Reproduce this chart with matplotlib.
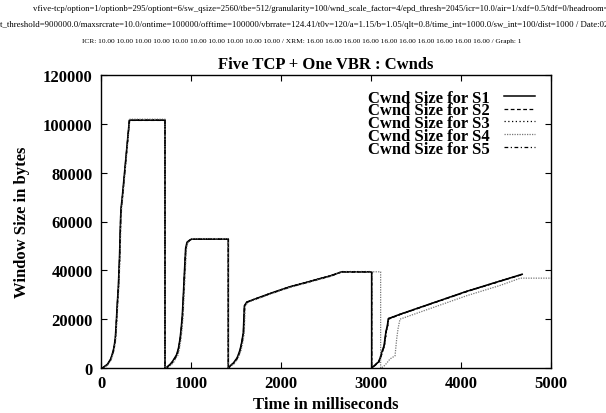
#!/usr/bin/python3

import matplotlib
matplotlib.use('Agg')
import matplotlib.pyplot as plt

# Cwnd traces (time in ms, window in bytes)
t_s1 = [0, 15, 44, 70, 89, 105, 119, 135, 144, 158, 167, 180, 192, 205, 218, 224, 236, 315, 711,
        711, 730, 767, 790, 803, 825, 840, 860, 878, 890, 903, 915, 925, 940, 955, 989, 1010, 1415,
        1415, 1452, 1470, 1489, 1510, 1526, 1545, 1563, 1581, 1593, 1619, 1750, 1915, 2100, 2285, 2420, 2544, 2674, 3007,
        3007, 3044, 3060, 3081, 3100, 3119, 3144, 3155, 3167, 3180, 3192, 3322, 3692, 4063, 4433, 4680]
w_s1 = [0, 0, 800, 1500, 2600, 3500, 5000, 7000, 8500, 12000, 17000, 26000, 33000, 45000, 62000, 66000, 70000, 101500, 101500,
        0, 300, 1500, 2500, 3200, 4500, 5500, 8000, 12000, 16000, 21500, 30000, 38000, 49000, 51500, 52500, 52800, 52800,
        0, 1500, 2000, 3000, 4000, 5500, 7500, 10500, 14500, 25500, 27000, 28800, 31000, 33300, 35100, 36500, 37700, 39400, 39400,
        0, 1200, 1800, 2400, 4000, 6400, 9100, 12000, 15200, 17000, 20200, 22000, 26700, 31400, 35600, 38400]

t_s2 = [0, 18, 48, 72, 92, 108, 121, 138, 146, 160, 169, 182, 194, 207, 219, 226, 238, 317, 711,
        711, 735, 770, 795, 808, 828, 845, 863, 880, 893, 906, 917, 928, 943, 958, 992, 1012, 1415,
        1415, 1455, 1474, 1492, 1513, 1530, 1548, 1566, 1584, 1596, 1622, 1752, 1918, 2102, 2288, 2422, 2546, 2676, 3007,
        3007, 3048, 3064, 3085, 3104, 3123, 3148, 3158, 3170, 3183, 3195, 3325, 3695, 4066, 4436, 4682]
w_s2 = [0, 0, 700, 1400, 2500, 3400, 4800, 6800, 8300, 11800, 16800, 25800, 32800, 44800, 61800, 65800, 69800, 101400, 101400,
        0, 200, 1400, 2300, 3000, 4300, 5300, 7800, 11800, 15800, 21300, 29800, 37800, 48800, 51300, 52400, 52700, 52700,
        0, 1400, 1900, 2900, 3900, 5400, 7300, 10300, 14300, 25300, 26900, 28700, 30900, 33200, 35000, 36400, 37600, 39300, 39300,
        0, 1100, 1700, 2300, 3800, 6200, 8900, 11800, 15000, 16800, 20000, 21900, 26600, 31300, 35500, 38300]

t_s3 = [0, 20, 50, 74, 94, 110, 123, 140, 148, 162, 171, 184, 196, 209, 221, 228, 240, 319, 711,
        711, 740, 775, 800, 812, 832, 850, 866, 884, 896, 909, 920, 931, 946, 961, 995, 1015, 1415,
        1415, 1458, 1478, 1496, 1517, 1534, 1552, 1570, 1588, 1599, 1625, 1755, 1920, 2105, 2290, 2425, 2548, 2678, 3007,
        3007, 3052, 3068, 3090, 3108, 3127, 3152, 3162, 3174, 3186, 3198, 3328, 3698, 4069, 4439, 4684]
w_s3 = [0, 0, 900, 1600, 2700, 3600, 5200, 7200, 8700, 12200, 17200, 26200, 33200, 45200, 62200, 66200, 70200, 101700, 101700,
        0, 400, 1600, 2600, 3400, 4700, 5700, 8200, 12200, 16200, 21700, 30200, 38200, 49200, 51700, 52600, 52900, 52900,
        0, 1600, 2100, 3100, 4100, 5600, 7700, 10700, 14700, 25700, 27100, 28900, 31100, 33400, 35200, 36600, 37800, 39500, 39500,
        0, 1300, 1900, 2500, 4200, 6600, 9300, 12200, 15400, 17200, 20400, 22100, 26800, 31500, 35700, 38500]

t_s4 = [0, 22, 52, 76, 96, 112, 125, 142, 150, 164, 173, 186, 198, 211, 223, 230, 242, 321, 711,
        711, 745, 780, 805, 816, 836, 855, 870, 888, 900, 912, 923, 934, 949, 964, 998, 1018, 1415,
        1415, 1461, 1482, 1500, 1521, 1538, 1556, 1574, 1592, 1602, 1628, 1758, 1922, 2108, 2292, 2428, 2550, 2680, 3107,
        3107, 3137, 3175, 3211, 3267, 3285, 3300, 3322, 3692, 4063, 4433, 4660, 5000]
w_s4 = [0, 0, 600, 1300, 2400, 3300, 4700, 6600, 8100, 11600, 16600, 25600, 32600, 44600, 61600, 65600, 69600, 101900, 101900,
        0, 300, 1300, 2200, 2900, 4200, 5200, 7600, 11600, 15600, 21100, 29600, 37600, 48600, 51400, 52700, 53000, 53000,
        0, 1300, 1800, 2800, 3800, 5300, 7200, 10200, 14200, 25200, 26800, 28600, 30800, 33100, 34900, 36300, 37500, 39400, 39400,
        0, 500, 2000, 3700, 5000, 11800, 16000, 20000, 24800, 29600, 33800, 36800, 36800]

t_s5 = [0, 16, 46, 71, 90, 106, 120, 136, 145, 159, 168, 181, 193, 206, 219, 225, 237, 316, 711,
        711, 732, 769, 792, 805, 826, 842, 861, 879, 891, 904, 916, 926, 941, 956, 990, 1011, 1415,
        1415, 1453, 1472, 1490, 1511, 1528, 1546, 1564, 1582, 1594, 1620, 1751, 1916, 2101, 2286, 2421, 2545, 2675, 3007,
        3007, 3046, 3062, 3083, 3102, 3121, 3146, 3157, 3168, 3181, 3193, 3323, 3693, 4064, 4434, 4681]
w_s5 = [0, 0, 750, 1450, 2550, 3450, 4900, 6900, 8400, 11900, 16900, 25900, 32900, 44900, 61900, 65900, 69900, 101500, 101500,
        0, 250, 1450, 2400, 3100, 4400, 5400, 7900, 11900, 15900, 21400, 29900, 37900, 48900, 51400, 52450, 52750, 52750,
        0, 1450, 1950, 2950, 3950, 5450, 7400, 10400, 14400, 25400, 26950, 28750, 30950, 33250, 35050, 36450, 37650, 39350, 39350,
        0, 1150, 1750, 2350, 3900, 6300, 9000, 11900, 15100, 16900, 20100, 21950, 26650, 31350, 35550, 38350]

labels = ['Cwnd Size for S1', 'Cwnd Size for S2', 'Cwnd Size for S3',
          'Cwnd Size for S4', 'Cwnd Size for S5']

header = [
    "vfive-tcp/option=1/optionb=295/optiont=6/sw_qsize=2560/tbe=512/granularity=100/wnd_scale_factor=4/"
    "epd_thresh=2045/icr=10.0/air=1/xdf=0.5/tdf=0/headroom=1",
    "t_threshold=900000.0/maxsrcrate=10.0/ontime=100000/offtime=100000/vbrrate=124.41/t0v=120/a=1.15/b=1.05/"
    "qlt=0.8/time_int=1000.0/sw_int=100/dist=1000 / Date:02",
    "ICR: 10.00 10.00 10.00 10.00 10.00 10.00 10.00 10.00 10.00 10.00 / XRM: 16.00 16.00 16.00 16.00 16.00 "
    "16.00 16.00 16.00 16.00 16.00 / Graph: 1",
]

fontsize = 12
plt.rcParams['font.family'] = ['Liberation Serif', 'DejaVu Serif']
plt.rcParams['font.weight'] = 'bold'


def plot():
    W, H = 606, 414
    fig = plt.figure(figsize=(W / 100, H / 100), dpi=100)
    ax = fig.add_axes([101 / W, 1 - 369 / H, 450 / W, 293 / H])

    styles = [
        dict(color='black', linestyle='-', linewidth=1.1),
        dict(color='black', linestyle=(0, (3, 2)), linewidth=0.9),
        dict(color='black', linestyle=(0, (1, 2)), linewidth=0.9),
        dict(color='#777777', linestyle=(0, (1, 1)), linewidth=0.9),
        dict(color='black', linestyle=(0, (3, 2, 1, 2)), linewidth=0.9),
    ]
    series = [(t_s1, w_s1), (t_s2, w_s2), (t_s3, w_s3), (t_s4, w_s4), (t_s5, w_s5)]
    for (t, w), st, lab in zip(series, styles, labels):
        ax.plot(t, w, label=lab, **st)

    ax.set_xlim(0, 5000)
    ax.set_ylim(0, 120000)
    ax.set_xticks(range(0, 5001, 1000))
    ax.set_yticks(range(0, 120001, 20000))
    ax.tick_params(direction='in', length=4, width=0.8, top=True, right=True,
                   labelsize=fontsize)
    ax.tick_params(axis='x', pad=5)
    ax.tick_params(axis='y', pad=6)
    for lab in ax.get_xticklabels() + ax.get_yticklabels():
        lab.set_fontweight('bold')
    for sp in ax.spines.values():
        sp.set_linewidth(1.0)

    ax.set_xlabel('Time in milliseconds', fontsize=fontsize, fontweight='bold', labelpad=4)
    ax.set_ylabel('Window Size in bytes', fontsize=fontsize, fontweight='bold', labelpad=9)
    ax.set_title('Five TCP + One VBR : Cwnds', fontsize=fontsize, fontweight='bold', pad=5)

    ax.legend(loc='upper right', bbox_to_anchor=(0.99, 0.99), frameon=False,
              markerfirst=False, fontsize=fontsize, handlelength=1.85,
              handletextpad=0.85, labelspacing=-0.19, borderpad=0.2)

    fig.text(33 / W, 1 - 9 / H, header[0], fontsize=6.2, fontweight='normal',
             ha='left', va='center')
    fig.text(0.0, 1 - 25 / H, header[1], fontsize=6.3, fontweight='normal',
             ha='left', va='center')
    fig.text(302 / W, 1 - 42 / H, header[2], fontsize=5.3, fontweight='normal',
             ha='center', va='center')

    plt.savefig('out.png', dpi=100)


def main():
    plot()


if __name__ == "__main__":
    main()
